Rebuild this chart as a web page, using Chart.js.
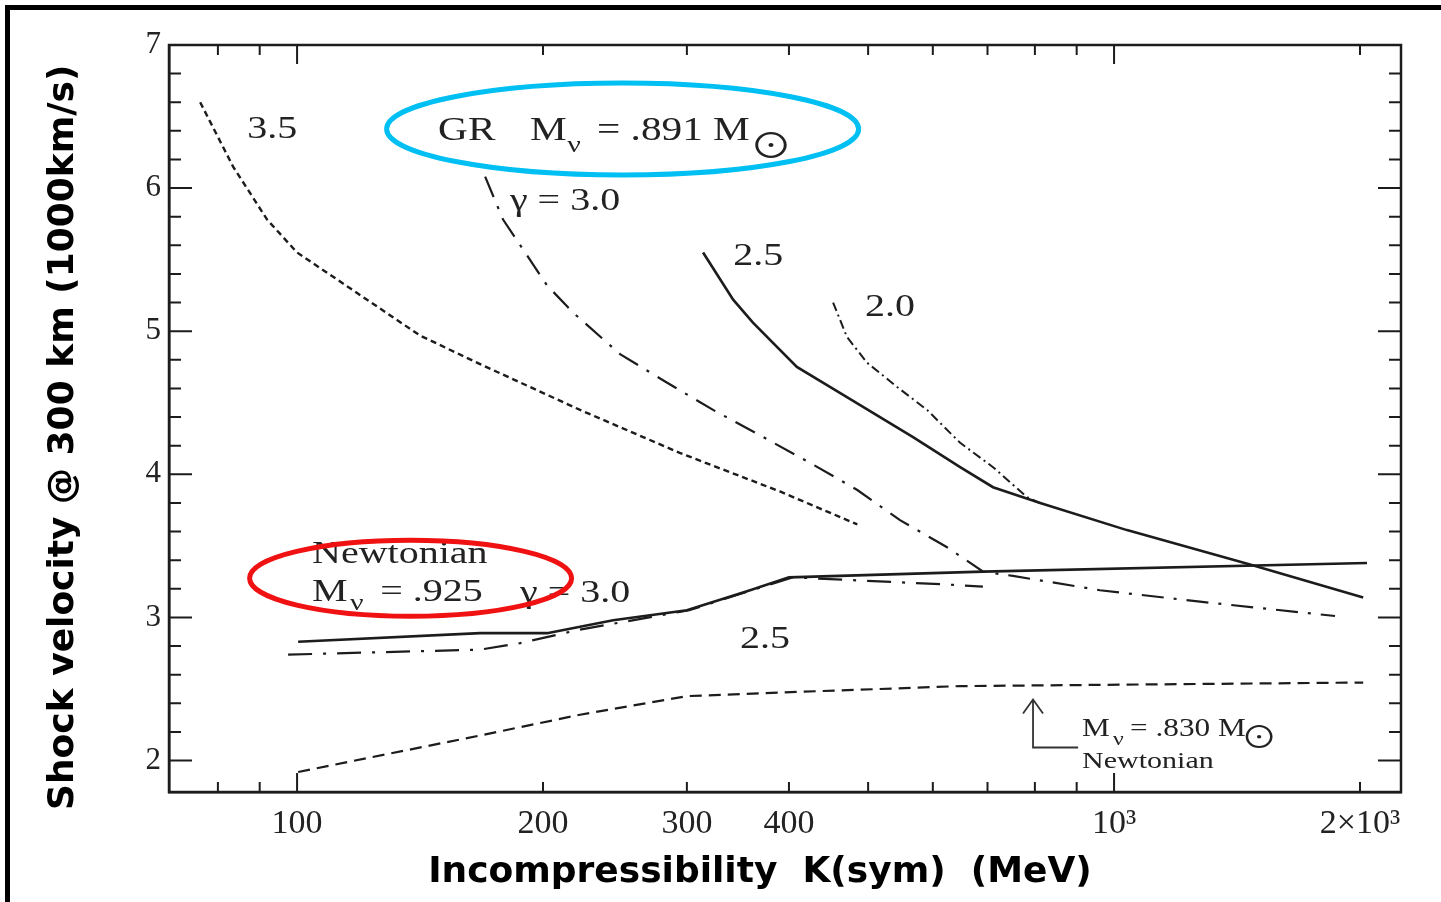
<!DOCTYPE html>
<html><head><meta charset="utf-8">
<script src="https://cdn.jsdelivr.net/npm/chart.js@4.4.0/dist/chart.umd.min.js"></script>
<style>html,body{margin:0;padding:0;background:#fff;overflow:hidden}canvas{display:block}</style>
</head><body>
<canvas id="c" width="1441" height="902"></canvas>
<script>
// ---------- data (K in MeV, shock velocity in 1000 km/s) ----------
const gr35K = [76.1, 83.5, 91.9, 100, 121.8, 141.4, 167.5, 222, 294, 390, 485];
const gr35V = [6.60, 6.15, 5.78, 5.55, 5.22, 4.97, 4.77, 4.45, 4.15, 3.88, 3.65];

const gr30K = [169.9, 178.7, 202.3, 217.7, 248.5, 283.8, 323, 372, 424.6, 485, 547, 624.6, 691.5, 752, 961, 1274, 1864];
const gr30V = [6.08, 5.78, 5.32, 5.13, 4.84, 4.64, 4.45, 4.26, 4.08, 3.89, 3.68, 3.49, 3.32, 3.29, 3.19, 3.11, 3.01];

const gr25K = [314, 341.8, 361.4, 409, 471, 567.5, 648, 711, 812, 1037, 1467, 2018];
const gr25V = [5.55, 5.22, 5.06, 4.75, 4.54, 4.26, 4.05, 3.91, 3.80, 3.61, 3.37, 3.14];

const gr20K = [453, 471, 498.5, 542.6, 590.4, 648, 711, 782.6, 818.7];
const gr20V = [5.20, 4.96, 4.78, 4.61, 4.45, 4.22, 4.05, 3.84, 3.79];

const newt25K = [100.3, 167.5, 202.3, 243.7, 300, 358.5, 400, 691, 2040];
const newt25V = [2.83, 2.89, 2.89, 2.98, 3.05, 3.19, 3.28, 3.32, 3.38];

const newt30K = [97.5, 167.5, 187.5, 222, 302, 404, 625, 691];
const newt30V = [2.74, 2.775, 2.82, 2.915, 3.05, 3.28, 3.23, 3.215];

const newt830K = [100.3, 167.5, 222, 300, 390, 648, 2018];
const newt830V = [1.92, 2.175, 2.32, 2.45, 2.475, 2.52, 2.545];

// ---------- axes ----------
const xMin = 69.7, xMax = 2245;
const yMin = 1.78, yMax = 7.0;
const xTickValues = [80, 90, 100, 200, 300, 400, 500, 600, 700, 800, 900, 1000, 2000];
const xMajorTicks = [100, 1000];
const xLabelValues = [100, 200, 300, 400, 1000, 2000];
const xLabelTexts = ['100', '200', '300', '400', '10³', '2×10³'];
const yTickValues = [2, 3, 4, 5, 6, 7];
const yMinorTicks = [2.2, 2.4, 2.6, 2.8, 3.2, 3.4, 3.6, 3.8, 4.2, 4.4, 4.6, 4.8, 5.2, 5.4, 5.6, 5.8, 6.2, 6.4, 6.6, 6.8];

const xTitle = 'Incompressibility  K(sym)  (MeV)';
const yTitle = 'Shock velocity @ 300 km (1000km/s)';

const pts = (K, V) => K.map((k, i) => ({x: k, y: V[i]}));
const ink = '#1c1c1c';
const SERIF = '"Liberation Serif", "Times New Roman", serif';
const SX = 1.25; // horizontal stretch of the scanned lettering

// ---------- annotations (data coordinates) ----------
const notes = [
  {t: '3.5', k: 86.9, v: 6.351, size: 32},
  {t: 'GR', k: 148.8, v: 6.337, size: 33},
  {t: 'M', k: 192.8, v: 6.337, size: 33},
  {t: 'ν', k: 214.1, v: 6.25, size: 24},
  {t: '= .891 M', k: 232.9, v: 6.337, size: 33},
  {t: 'γ = 3.0', k: 182.2, v: 5.848, size: 32},
  {t: '2.5', k: 341.8, v: 5.464, size: 32},
  {t: '2.0', k: 495.7, v: 5.108, size: 32},
  {t: 'Newtonian', k: 104.3, v: 3.383, size: 32},
  {t: 'M', k: 104.3, v: 3.117, size: 32},
  {t: 'ν', k: 116.1, v: 3.05, size: 24},
  {t: '= .925', k: 126.4, v: 3.117, size: 32},
  {t: 'γ = 3.0', k: 187.5, v: 3.11, size: 32},
  {t: '2.5', k: 348.5, v: 2.789, size: 32},
  {t: 'M', k: 913.9, v: 2.168, size: 25},
  {t: 'ν', k: 997, v: 2.11, size: 19},
  {t: '= .830 M', k: 1046, v: 2.168, size: 25},
  {t: 'Newtonian', k: 913.9, v: 1.951, size: 24}
];
const suns = [{k: 380.4, v: 6.30, size: 34}, {k: 1505, v: 2.165, size: 29}];
const ellipses = [
  {k: 250.3, v: 6.413, rx: 236, ry: 46, color: '#00bff2'},
  {k: 137.7, v: 3.274, rx: 161, ry: 38, color: '#f01212'}
];
const arrow = {k: 795.8, vTip: 2.426, vBase: 2.091, kEnd: 903.6};

const framePlugin = {
  id: 'frame',
  beforeDraw(chart) {
    const ctx = chart.ctx;
    ctx.save();
    ctx.fillStyle = '#fff';
    ctx.fillRect(0, 0, chart.width, chart.height);
    ctx.fillStyle = '#000';
    ctx.fillRect(5, 5, chart.width - 5, 5);
    ctx.fillRect(5, 5, 5, chart.height - 5);
    ctx.restore();
  },
  afterDatasetsDraw(chart) {
    const {ctx, chartArea: a, scales: {x, y}} = chart;
    ctx.save();
    ctx.strokeStyle = ink;
    ctx.lineWidth = 2.5;
    ctx.strokeRect(a.left, a.top, a.right - a.left, a.bottom - a.top);
    ctx.lineWidth = 2;
    ctx.beginPath();
    xTickValues.forEach(v => {
      const px = x.getPixelForValue(v);
      const L = xMajorTicks.includes(v) ? 19 : 10;
      ctx.moveTo(px, a.bottom); ctx.lineTo(px, a.bottom - L);
      ctx.moveTo(px, a.top); ctx.lineTo(px, a.top + L);
    });
    const yt = (v, L) => {
      const py = y.getPixelForValue(v);
      ctx.moveTo(a.left, py); ctx.lineTo(a.left + L, py);
      ctx.moveTo(a.right, py); ctx.lineTo(a.right - L, py);
    };
    yTickValues.forEach(v => yt(v, 23));
    yMinorTicks.forEach(v => yt(v, 12));
    ctx.stroke();

    // annotation texts
    ctx.fillStyle = '#222';
    ctx.textBaseline = 'alphabetic';
    ctx.textAlign = 'left';
    notes.forEach(n => {
      ctx.save();
      ctx.translate(x.getPixelForValue(n.k), y.getPixelForValue(n.v));
      ctx.scale(SX, 1);
      ctx.font = n.size + 'px ' + SERIF;
      ctx.fillText(n.t, 0, 0);
      ctx.restore();
    });
    suns.forEach(s => {
      const cx = x.getPixelForValue(s.k), cy = y.getPixelForValue(s.v);
      ctx.save();
      ctx.translate(cx, cy);
      ctx.scale(SX, 1);
      ctx.font = s.size + 'px "Noto Sans CJK JP", "DejaVu Sans"';
      ctx.textAlign = 'center';
      ctx.textBaseline = 'middle';
      ctx.fillText('⊙', 0, 0);
      ctx.restore();
    });
    // arrow
    const ax = x.getPixelForValue(arrow.k);
    const ay0 = y.getPixelForValue(arrow.vBase), ay1 = y.getPixelForValue(arrow.vTip);
    ctx.strokeStyle = '#333';
    ctx.lineWidth = 1.8;
    ctx.beginPath();
    ctx.moveTo(x.getPixelForValue(arrow.kEnd), ay0);
    ctx.lineTo(ax, ay0);
    ctx.lineTo(ax, ay1);
    ctx.moveTo(ax - 10, ay1 + 14); ctx.lineTo(ax, ay1); ctx.lineTo(ax + 10, ay1 + 14);
    ctx.stroke();
    // ellipses
    ellipses.forEach(e => {
      ctx.beginPath();
      ctx.ellipse(x.getPixelForValue(e.k), y.getPixelForValue(e.v), e.rx, e.ry, 0, 0, Math.PI * 2);
      ctx.strokeStyle = e.color;
      ctx.lineWidth = 5;
      ctx.stroke();
    });
    ctx.restore();
  }
};

const line = (label, K, V, dash, width) => ({
  label, data: pts(K, V), showLine: true, borderColor: ink, backgroundColor: ink,
  borderWidth: width, borderDash: dash, pointRadius: 0, tension: 0, fill: false
});

new Chart(document.getElementById('c'), {
  type: 'scatter',
  data: {
    datasets: [
      line('GR γ=3.5', gr35K, gr35V, [6, 4], 2.4),
      line('GR γ=3.0', gr30K, gr30V, [22, 10, 3, 10], 2.2),
      line('GR γ=2.5', gr25K, gr25V, [], 2.6),
      line('GR γ=2.0', gr20K, gr20V, [9, 4, 2, 4], 2),
      line('Newtonian γ=2.5', newt25K, newt25V, [], 2.6),
      line('Newtonian γ=3.0', newt30K, newt30V, [24, 11, 3, 11], 2.2),
      line('Newtonian Mν=.830', newt830K, newt830V, [12, 7], 2.2)
    ]
  },
  options: {
    responsive: false, animation: false, devicePixelRatio: 1,
    layout: {padding: {left: 0, top: 45, right: 40, bottom: 0}},
    plugins: {legend: {display: false}, tooltip: {enabled: false}},
    scales: {
      x: {
        type: 'logarithmic', min: xMin, max: xMax,
        afterBuildTicks: s => { s.ticks = xTickValues.map(v => ({value: v})); },
        afterFit: s => { s.height = 110; },
        grid: {display: false},
        border: {display: true, color: ink, width: 2.5},
        ticks: {
          autoSkip: false, maxRotation: 0, padding: 4, color: '#222',
          font: {family: SERIF, size: 34},
          callback: v => { const i = xLabelValues.indexOf(v); return i >= 0 ? xLabelTexts[i] : ''; }
        },
        title: {display: true, text: xTitle + '    ', color: '#000',
          font: {family: 'DejaVu Sans', size: 36, weight: 'bold'}, padding: {top: 0, bottom: 8}}
      },
      y: {
        type: 'linear', min: yMin, max: yMax,
        afterBuildTicks: s => { s.ticks = yTickValues.map(v => ({value: v})); },
        afterFit: s => { s.width = 169; },
        grid: {display: false},
        border: {display: true, color: ink, width: 2.5},
        ticks: {padding: 0, color: '#222', font: {family: SERIF, size: 31}},
        title: {display: true, text: yTitle + '   ', color: '#000',
          font: {family: 'DejaVu Sans', size: 36, weight: 'bold'}, padding: {top: 42, bottom: 0}}
      }
    }
  },
  plugins: [framePlugin]
});
</script>
</body></html>
